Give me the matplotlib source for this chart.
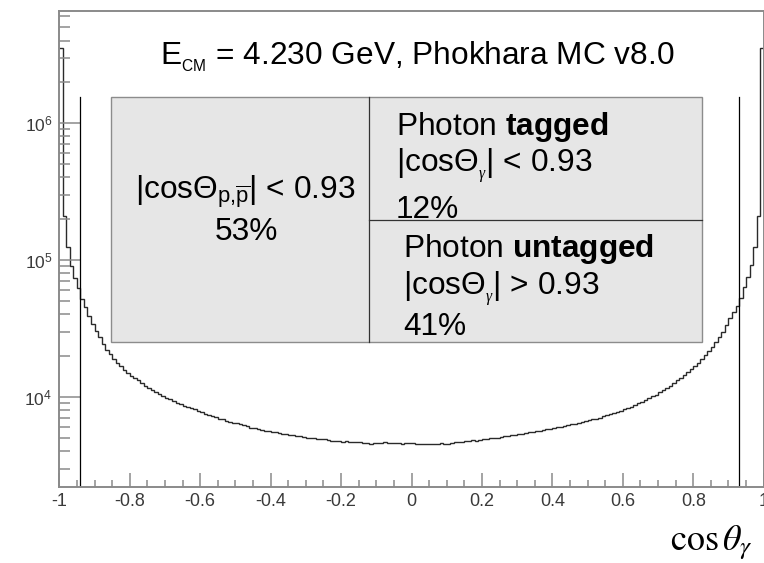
import numpy as np
import matplotlib
matplotlib.use("Agg")
import matplotlib.pyplot as plt
from matplotlib.patches import Rectangle
from matplotlib.ticker import FixedLocator, MultipleLocator, LogLocator, NullFormatter

plt.rcParams['font.family'] = ['Liberation Sans', 'DejaVu Sans']
plt.rcParams['mathtext.fontset'] = 'custom'
plt.rcParams['mathtext.rm'] = 'Liberation Sans'
plt.rcParams['mathtext.it'] = 'Liberation Serif:italic'
plt.rcParams['mathtext.bf'] = 'Liberation Sans:bold'
plt.rcParams['axes.unicode_minus'] = False

# histogram contents, bins of 0.01 in cos(theta_gamma)
counts_neg = [3.5e6, 2.1e5, 1.25e5, 9.0e4, 7.4e4, 6.2e4, 5.2e4, 4.5e4, 3.9e4, 3.4e4,
              3.05e4, 2.75e4, 2.45e4, 2.2e4, 2.05e4, 1.9e4, 1.78e4, 1.68e4, 1.58e4, 1.50e4,
              1.43e4, 1.38e4, 1.32e4, 1.26e4, 1.21e4, 1.17e4, 1.12e4, 1.09e4, 1.05e4, 1.02e4,
              9900, 9600, 9400, 9100, 8900, 8600, 8450, 8300, 8100, 7900,
              7750, 7550, 7350, 7200, 7100, 6950, 6850, 6700, 6600, 6500,
              6400, 6300, 6200, 6100, 5950, 5900, 5800, 5750, 5650, 5600,
              5550, 5500, 5450, 5400, 5350, 5300, 5250, 5200, 5200, 5100,
              5050, 5000, 4980, 4950, 4900, 4900, 4850, 4800, 4800, 4750,
              4720, 4750, 4700, 4720, 4680, 4650, 4620, 4600, 4550, 4600,
              4620, 4600, 4650, 4620, 4600, 4620, 4580, 4550, 4600, 4600]
counts_pos = [4580, 4550, 4500, 4550, 4550, 4520, 4550, 4500, 4600, 4550,
              4500, 4620, 4700, 4650, 4720, 4750, 4800, 4850, 4800, 4880,
              4920, 4900, 5000, 5020, 5050, 5100, 5150, 5200, 5250, 5300,
              5350, 5400, 5420, 5500, 5550, 5600, 5650, 5700, 5800, 5850,
              5900, 6000, 6050, 6100, 6200, 6300, 6350, 6450, 6550, 6650,
              6750, 6850, 6950, 7050, 7250, 7350, 7500, 7650, 7800, 7950,
              8100, 8300, 8500, 8750, 9000, 9200, 9500, 9800, 1.01e4, 1.04e4,
              1.08e4, 1.12e4, 1.16e4, 1.21e4, 1.26e4, 1.32e4, 1.38e4, 1.45e4, 1.52e4, 1.6e4,
              1.68e4, 1.78e4, 1.9e4, 2.02e4, 2.15e4, 2.32e4, 2.5e4, 2.75e4, 3.0e4, 3.35e4,
              3.75e4, 4.15e4, 4.6e4, 5.3e4, 6.3e4, 7.5e4, 9.2e4, 1.25e5, 2.1e5, 3.5e6]

x_ticks = [-1, -0.8, -0.6, -0.4, -0.2, 0, 0.2, 0.4, 0.6, 0.8, 1]
x_ticklabels = ["-1", "-0.8", "-0.6", "-0.4", "-0.2", "0", "0.2", "0.4", "0.6", "0.8", "1"]
cut_lo, cut_hi = -0.94, 0.93

title = r"E$_{_{\mathrm{CM}}}$ = 4.230 GeV, Phokhara MC v8.0"
box_left = [r"|cos$\Theta_{\mathrm{p{,}\overline{p}}}$| < 0.93", "53%"]
box_tagged = [r"Photon $\mathbf{tagged}$", r"|cos$\Theta_{_{\gamma}}$| < 0.93", "12%"]
box_untagged = [r"Photon $\mathbf{untagged}$", r"|cos$\Theta_{_{\gamma}}$| > 0.93", "41%"]

counts = np.array(counts_neg + counts_pos)
edges = np.linspace(-1, 1, len(counts) + 1)

fig = plt.figure(figsize=(7.64, 5.63), dpi=100)
ax = fig.add_axes([59.3 / 764, 76 / 563, 704.4 / 764, 476 / 563])

ax.stairs(counts, edges, baseline=None, color='#2a2a2a', lw=1.0)
ax.set_yscale('log')
ax.set_xlim(-1, 1)
ax.set_ylim(2200, 6.57e6)

frame = '#8a8a8a'
for s in ax.spines.values():
    s.set_color(frame)
    s.set_linewidth(1.4)

ax.xaxis.set_major_locator(FixedLocator(x_ticks))
ax.set_xticklabels(x_ticklabels)
ax.xaxis.set_minor_locator(MultipleLocator(0.05))
ax.yaxis.set_major_locator(LogLocator(base=10, numticks=20))
ax.yaxis.set_minor_locator(LogLocator(base=10, subs=np.arange(2, 10), numticks=20))
ax.yaxis.set_minor_formatter(NullFormatter())
ax.tick_params(which='both', direction='in', top=False, right=False, color=frame, width=1.1,
               labelcolor='#3a3a3a')
ax.tick_params(axis='x', which='major', length=10, labelsize=13, pad=4)
ax.tick_params(axis='x', which='minor', length=5)
ax.tick_params(axis='y', which='major', length=16, labelsize=12.5, pad=5)
ax.tick_params(axis='y', which='minor', length=8)

for xc in (cut_lo, cut_hi):
    ax.axvline(xc, ymin=0, ymax=0.819, color='black', lw=0.9)

# summary boxes
box = Rectangle((0.0739, 0.305), 0.913 - 0.0739, 0.819 - 0.305, transform=ax.transAxes,
                facecolor='#e6e6e6', edgecolor='#8c8c8c', lw=1.0, zorder=3)
ax.add_patch(box)
ax.plot([0.439, 0.439], [0.305, 0.819], transform=ax.transAxes, color='#333333', lw=0.9, zorder=4)
ax.plot([0.439, 0.913], [0.561, 0.561], transform=ax.transAxes, color='#333333', lw=0.9, zorder=4)

fs = 22.8
ax.text(0.143, 0.887, title, transform=ax.transAxes, fontsize=fs, va='baseline', ha='left')
ax.text(0.107, 0.607, box_left[0], transform=ax.transAxes, fontsize=fs, va='baseline', zorder=5)
ax.text(0.266, 0.519, box_left[1], transform=ax.transAxes, fontsize=fs, va='baseline', ha='center', zorder=5)
for txt, y in zip(box_tagged, [0.739, 0.660, 0.565]):
    ax.text(0.478, y, txt, transform=ax.transAxes, fontsize=fs, va='baseline', zorder=5)
for txt, y in zip(box_untagged, [0.483, 0.403, 0.319]):
    t = ax.text(0.488, y, txt, transform=ax.transAxes, fontsize=fs, va='baseline', zorder=5)
    t.set_clip_path(box)

fig.text(753 / 764, 13 / 563, r"$\cos\theta_{\gamma}$", fontsize=26, ha='right', va='baseline',
         math_fontfamily='stix')

fig.savefig("out.png", dpi=100)
